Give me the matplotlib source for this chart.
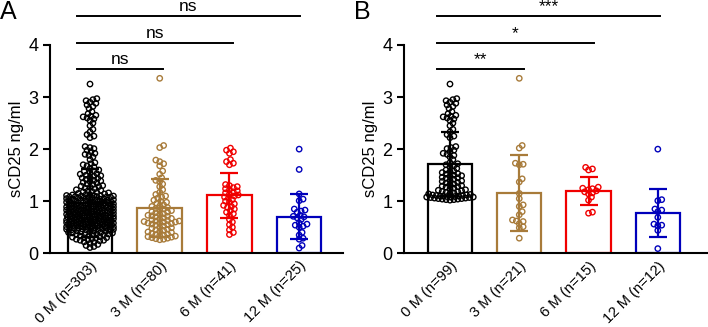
import numpy as np
import matplotlib.pyplot as plt

plt.rcParams['font.family'] = ['Liberation Sans', 'DejaVu Sans']

labels_a = ["0 M (n=303)", "3 M (n=80)", "6 M (n=41)", "12 M (n=25)"]
labels_b = ["0 M (n=99)", "3 M (n=21)", "6 M (n=15)", "12 M (n=12)"]
colors = ["#000000", "#A87B3A", "#F00000", "#0000BB"]

# baseline patients shown in panel B (they are also part of the 0 M group in A)
b_0m = [3.25,
        2.97, 2.95, 2.93, 2.90, 2.88, 2.85, 2.82, 2.78, 2.72, 2.68, 2.65, 2.63, 2.62, 2.60, 2.58, 2.55, 2.50, 2.45,
        2.38, 2.33, 2.28, 2.25, 2.22,
        2.05, 2.03, 2.01, 1.98, 1.95, 1.92, 1.90, 1.88, 1.85, 1.80,
        1.74, 1.72, 1.70, 1.68, 1.66, 1.63, 1.60, 1.58, 1.57, 1.55, 1.53, 1.52, 1.50, 1.49, 1.48,
        1.46, 1.45, 1.44, 1.42, 1.40, 1.39, 1.38, 1.36, 1.35, 1.33, 1.32, 1.30, 1.29, 1.28, 1.27,
        1.25, 1.24, 1.22, 1.21, 1.20, 1.19, 1.18, 1.17, 1.16, 1.15,
        1.14, 1.13, 1.12, 1.12, 1.11, 1.11, 1.10, 1.10, 1.10, 1.09, 1.09, 1.08, 1.08, 1.08,
        1.07, 1.07, 1.06, 1.06, 1.05, 1.05, 1.04, 1.04, 1.03, 1.03, 1.02]
b_3m = [3.36, 2.07, 2.02, 1.73, 1.71, 1.70, 1.43, 1.37, 1.15, 1.05, 0.93, 0.90, 0.80,
        0.74, 0.64, 0.62, 0.61, 0.57, 0.51, 0.49, 0.29]
b_6m = [1.65, 1.62, 1.60, 1.27, 1.25, 1.24, 1.22, 1.20, 1.18, 1.16, 1.14, 1.08, 1.02, 0.79, 0.77]
b_12m = [2.00, 1.03, 1.01, 0.85, 0.83, 0.80, 0.69, 0.56, 0.54, 0.53, 0.44, 0.09]

# remaining 0 M patients of panel A
a_0m_low = [1.02, 1.01, 1.01, 1.00, 1.00, 0.99, 0.99, 0.98, 0.98, 0.98, 0.97, 0.97, 0.97, 0.96, 0.96,
            0.96, 0.95, 0.95, 0.95, 0.95,
            0.94, 0.94, 0.93, 0.93, 0.92, 0.92, 0.91, 0.91, 0.90, 0.90, 0.90, 0.89, 0.89, 0.89, 0.88,
            0.88, 0.88, 0.87, 0.87, 0.87, 0.86, 0.86, 0.86, 0.85, 0.85,
            0.84, 0.84, 0.84, 0.83, 0.83, 0.83, 0.82, 0.82, 0.82, 0.81, 0.81, 0.81, 0.80, 0.80, 0.80,
            0.80, 0.79, 0.79, 0.79, 0.78, 0.78, 0.78, 0.77, 0.77, 0.77, 0.76, 0.76, 0.76, 0.75, 0.75,
            0.74, 0.74, 0.74, 0.73, 0.73, 0.73, 0.72, 0.72, 0.72, 0.72, 0.71, 0.71, 0.71, 0.70, 0.70,
            0.70, 0.70, 0.69, 0.69, 0.69, 0.68, 0.68, 0.68, 0.67, 0.67, 0.67, 0.66, 0.66, 0.66, 0.65,
            0.65, 0.65,
            0.64, 0.64, 0.64, 0.63, 0.63, 0.63, 0.63, 0.62, 0.62, 0.62, 0.61, 0.61, 0.61, 0.60, 0.60,
            0.60, 0.60, 0.59, 0.59, 0.59, 0.58, 0.58, 0.58, 0.58, 0.57, 0.57, 0.57, 0.56, 0.56, 0.56,
            0.56, 0.55, 0.55, 0.55, 0.55,
            0.54, 0.54, 0.53, 0.53, 0.53, 0.52, 0.52, 0.51, 0.51, 0.51, 0.50, 0.50, 0.50, 0.49, 0.49,
            0.49, 0.48, 0.48, 0.47, 0.47, 0.47, 0.46, 0.46, 0.45, 0.45,
            0.44, 0.44, 0.43, 0.43, 0.42, 0.41, 0.41, 0.40, 0.40, 0.39, 0.39, 0.38, 0.37, 0.37, 0.36,
            0.36, 0.35,
            0.34, 0.33, 0.32, 0.31, 0.30, 0.30, 0.29, 0.28, 0.27, 0.26, 0.25, 0.25,
            0.24, 0.22, 0.21, 0.19, 0.17, 0.15, 0.13, 0.11]
a_0m = b_0m + a_0m_low
a_3m = [3.36, 2.07, 2.03, 1.79, 1.76, 1.72, 1.68,
        1.58, 1.52, 1.45, 1.40, 1.38, 1.33, 1.28, 1.22,
        1.17, 1.13, 1.10, 1.08, 1.06, 1.02, 1.00, 0.98, 0.96, 0.93, 0.91, 0.90,
        0.88, 0.86, 0.85, 0.83, 0.82, 0.80, 0.79, 0.78, 0.76, 0.75, 0.73, 0.72, 0.71, 0.70, 0.68,
        0.67, 0.66, 0.64, 0.63, 0.62, 0.62, 0.61, 0.60, 0.60,
        0.58, 0.58, 0.57, 0.56, 0.55, 0.54, 0.52, 0.50, 0.49, 0.48, 0.46, 0.45, 0.44, 0.42, 0.41,
        0.40, 0.38, 0.37, 0.36, 0.35, 0.34, 0.33, 0.32, 0.31, 0.30, 0.29, 0.28, 0.27, 0.26]
a_6m = [2.02, 1.98, 1.95, 1.92, 1.80, 1.76, 1.73, 1.70,
        1.32, 1.30, 1.28, 1.26, 1.24, 1.22, 1.20, 1.18, 1.16, 1.14, 1.12, 1.10, 1.08, 1.06,
        1.03, 1.00, 0.98, 0.95, 0.92, 0.90, 0.88, 0.85, 0.82, 0.79, 0.76, 0.73,
        0.65, 0.60, 0.55, 0.50, 0.45, 0.40, 0.36]
a_12m = [2.00, 1.61, 1.14, 1.04, 1.01, 0.85, 0.83, 0.81, 0.79, 0.73, 0.71, 0.70, 0.68, 0.65,
         0.58, 0.56, 0.54, 0.52, 0.50, 0.40, 0.35, 0.29, 0.27, 0.15, 0.10]

# mean and SD as drawn
mean_a = [0.97, 0.87, 1.11, 0.70]
sd_a = [0.65, 0.55, 0.44, 0.43]
mean_b = [1.71, 1.16, 1.20, 0.78]
sd_b = [0.61, 0.73, 0.27, 0.46]

sig_a = ["ns", "ns", "ns"]
sig_b = ["**", "*", "***"]
sig_levels = [3.54, 4.04, 4.56]


def swarm(vals, d=0.056, half=0.34, yscale=52 / 70):
    # beeswarm offsets (x units); y is rescaled so distances match on screen
    vals = np.asarray(vals, float)
    yy = vals * yscale
    steps = np.arange(d / 4, half + 1e-9, d / 4)
    cand = np.concatenate([[0.0], np.ravel(np.column_stack([steps, -steps]))])
    xs = np.zeros(len(vals))
    px, py = [], []
    for i in np.argsort(vals):
        best, bestgap = 0.0, -1.0
        for c in cand:
            gap = np.min(np.hypot(np.array(px) - c, np.array(py) - yy[i])) if px else np.inf
            if gap >= d:
                best = c
                break
            if gap > bestgap:
                best, bestgap = c, gap
        xs[i] = best
        px.append(best)
        py.append(yy[i])
    return xs


def panel(ax, data, means, sds, labels, sig, xlim, x0, ends):
    x = np.arange(len(data))
    ax.bar(x, means, width=0.64, color="none", edgecolor=colors, linewidth=1.6, zorder=1)
    for i, vals in enumerate(data):
        ax.scatter(i + swarm(vals), vals, s=15, facecolors="none", edgecolors=colors[i],
                   linewidths=1.0, zorder=2)
        ax.errorbar(i, means[i], yerr=sds[i], fmt="none", ecolor=colors[i], capsize=6.5,
                    elinewidth=1.6, capthick=1.6, zorder=3)
    for txt, yl, xe in zip(sig, sig_levels, ends):
        ax.plot([x0, xe], [yl, yl], color="k", lw=1.4, clip_on=False)
        ax.text((x0 + xe) / 2, yl + 0.1, txt, ha="center", va="baseline", fontsize=12.5, clip_on=False)
    ax.set_xlim(*xlim)
    ax.set_ylim(0, 4)
    ax.set_yticks([0, 1, 2, 3, 4])
    ax.set_xticks(x)
    ax.set_xticklabels(labels, rotation=45, ha="right", rotation_mode="anchor", fontsize=10.6)
    ax.tick_params(axis="x", length=0, pad=4)
    ax.tick_params(axis="y", length=5, width=1.5, labelsize=13)
    ax.set_ylabel("sCD25 ng/ml", fontsize=12, labelpad=3)
    for side in ["top", "right"]:
        ax.spines[side].set_visible(False)
    for side in ["left", "bottom"]:
        ax.spines[side].set_linewidth(1.5)


fig = plt.figure(figsize=(7.08, 3.27), dpi=100)
ax_a = fig.add_axes([0.0706, 0.2254, 0.414, 0.637])
ax_b = fig.add_axes([0.5706, 0.2254, 0.428, 0.637])

panel(ax_a, [a_0m, a_3m, a_6m, a_12m], mean_a, sd_a, labels_a, sig_a,
      (-0.574, 3.63), -0.19, [1.05, 2.05, 3.01])
panel(ax_b, [b_0m, b_3m, b_6m, b_12m], mean_b, sd_b, labels_b, sig_b,
      (-0.664, 3.71), -0.19, [1.07, 2.08, 3.03])

fig.text(0.0, 1.0, "A", fontsize=18, va="top", ha="left")
fig.text(0.5, 1.0, "B", fontsize=18, va="top", ha="left")

fig.savefig("out.png", dpi=100)
